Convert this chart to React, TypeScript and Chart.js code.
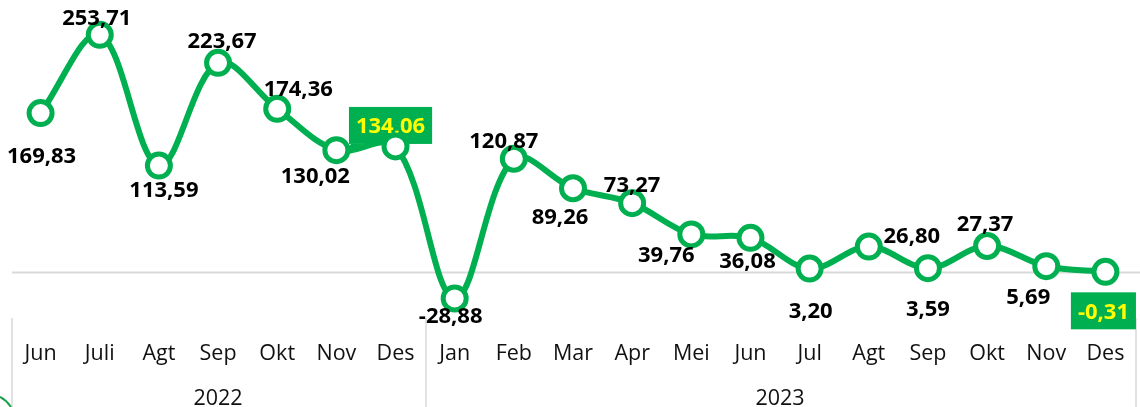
import React, { useEffect, useRef } from "react";
import { Chart, registerables } from "chart.js";

Chart.register(...registerables);

const months = ["Jun", "Juli", "Agt", "Sep", "Okt", "Nov", "Des", "Jan", "Feb", "Mar", "Apr", "Mei", "Jun", "Jul", "Agt", "Sep", "Okt", "Nov", "Des"];
const years = ["2022", "2023"];
const monthsPerYear = [7, 12];
const growth = [169.83, 253.71, 113.59, 223.67, 174.36, 130.02, 134.06, -28.88, 120.87, 89.26, 73.27, 39.76, 36.08, 3.2, 26.8, 3.59, 27.37, 5.69, -0.31];
const highlighted = [6, 18];

// label placement relative to its point (dx, dy to text centre)
const labelOffsets: [number, number][] = [
  [1, 42], [-3, -18], [5, 23], [4, -23], [21, -21], [-21, 25], [-5, -21],
  [-4, 17], [-10, -19], [-13, 28], [0, -19], [-25, 20], [-3, 22], [1, 41],
  [43, -12], [0, 40], [-2, -23], [-18, 30], [-2, 39],
];

const GREEN = "#00B050";
const LABEL_FONT = "bold 22px 'Open Sans', 'DejaVu Sans', sans-serif";
const AXIS_FONT = "21.5px 'Open Sans', 'DejaVu Sans', sans-serif";

const fmt = (v: number) => v.toFixed(2).replace(".", ",");

const decor = {
  id: "decor",
  beforeDatasetsDraw(chart: any) {
    const { ctx, chartArea, scales } = chart;
    const x = scales.x;
    const y = scales.y;
    const W = chart.width;
    const H = chart.height;
    ctx.save();
    // zero line
    const y0 = Math.round(y.getPixelForValue(0)) + 0.5;
    ctx.strokeStyle = "#d9d9d9";
    ctx.lineWidth = 2;
    ctx.beginPath();
    ctx.moveTo(chartArea.left + 1, y0);
    ctx.lineTo(W, y0);
    ctx.stroke();
    // group separators
    const band = x.getPixelForValue(1) - x.getPixelForValue(0);
    let idx = 0;
    const bounds: number[] = [x.getPixelForValue(0) - band / 2];
    monthsPerYear.forEach((n) => {
      idx += n;
      bounds.push(x.getPixelForValue(idx - 1) + band / 2);
    });
    ctx.lineWidth = 1.5;
    bounds.forEach((bx) => {
      ctx.beginPath();
      ctx.moveTo(Math.round(bx) + 1, chartArea.bottom);
      ctx.lineTo(Math.round(bx) + 1, H);
      ctx.stroke();
    });
    // highlighted label boxes
    const meta = chart.getDatasetMeta(0);
    ctx.font = LABEL_FONT;
    highlighted.forEach((i) => {
      const pt = meta.data[i];
      const [dx, dy] = labelOffsets[i];
      const cx = pt.x + dx;
      const cy = pt.y + dy;
      const text = fmt(growth[i]);
      const tw = ctx.measureText(text).width;
      const bw = tw + 14;
      const bh = 37;
      const left = cx - bw / 2;
      const top = cy - bh / 2;
      ctx.fillStyle = GREEN;
      ctx.fillRect(left, top, bw, bh);
      if (growth[i] > 0) {
        ctx.beginPath();
        ctx.moveTo(left + 2, top + bh);
        ctx.lineTo(left + 22, top + bh);
        ctx.lineTo(left - 4, top + bh + 8);
        ctx.closePath();
        ctx.fill();
      }
      ctx.fillStyle = "#FFFF00";
      ctx.textAlign = "center";
      ctx.textBaseline = "alphabetic";
      ctx.fillText(text, cx, cy + 8);
    });
    ctx.restore();
  },
  afterDatasetsDraw(chart: any) {
    const { ctx } = chart;
    const meta = chart.getDatasetMeta(0);
    ctx.save();
    ctx.font = LABEL_FONT;
    ctx.fillStyle = "#000";
    ctx.textAlign = "center";
    ctx.textBaseline = "alphabetic";
    growth.forEach((v, i) => {
      if (highlighted.includes(i)) return;
      const pt = meta.data[i];
      const [dx, dy] = labelOffsets[i];
      ctx.fillText(fmt(v), pt.x + dx, pt.y + dy + 8);
    });
    ctx.restore();
  },
  afterDraw(chart: any) {
    const { ctx, chartArea, scales } = chart;
    const x = scales.x;
    ctx.save();
    ctx.font = AXIS_FONT;
    ctx.fillStyle = "#111";
    ctx.textAlign = "center";
    ctx.textBaseline = "alphabetic";
    months.forEach((m, i) => {
      ctx.fillText(m, x.getPixelForValue(i), chartArea.bottom + 42);
    });
    let start = 0;
    years.forEach((yr, k) => {
      const end = start + monthsPerYear[k] - 1;
      const cx = (x.getPixelForValue(start) + x.getPixelForValue(end)) / 2;
      ctx.fillText(yr, cx, chartArea.bottom + 87);
      start = end + 1;
    });
    // corner of the outer frame
    ctx.strokeStyle = "#1a9e4a";
    ctx.lineWidth = 2;
    ctx.beginPath();
    ctx.moveTo(0, 397);
    ctx.quadraticCurveTo(6, 400, 11, 407);
    ctx.stroke();
    ctx.restore();
  },
};

export default function App() {
  const ref = useRef<HTMLCanvasElement>(null);
  useEffect(() => {
    const canvas = ref.current;
    if (!canvas) return;
    const chart = new Chart(canvas, {
      type: "line",
      data: {
        labels: months,
        datasets: [
          {
            data: growth,
            borderColor: GREEN,
            borderWidth: 6,
            tension: 0.35,
            pointRadius: 11.5,
            pointBorderWidth: 5,
            pointBackgroundColor: "#ffffff",
            pointBorderColor: GREEN,
            fill: false,
            clip: false as any,
          },
        ],
      },
      options: {
        responsive: false,
        animation: false,
        devicePixelRatio: 1,
        layout: { autoPadding: false, padding: { left: 11, right: 5, top: 0, bottom: 89 } },
        scales: {
          x: { display: false, offset: true },
          y: { display: false, min: -49.8, max: 291 },
        },
        plugins: {
          legend: { display: false },
          tooltip: { enabled: false },
          title: { display: false },
        },
      },
      plugins: [decor],
    });
    return () => chart.destroy();
  }, []);
  return (
    <div style={{ position: "fixed", left: 0, top: 0, width: 1140, height: 407, background: "#fff" }}>
      <canvas ref={ref} width={1140} height={407} style={{ display: "block", width: 1140, height: 407 }} />
    </div>
  );
}
